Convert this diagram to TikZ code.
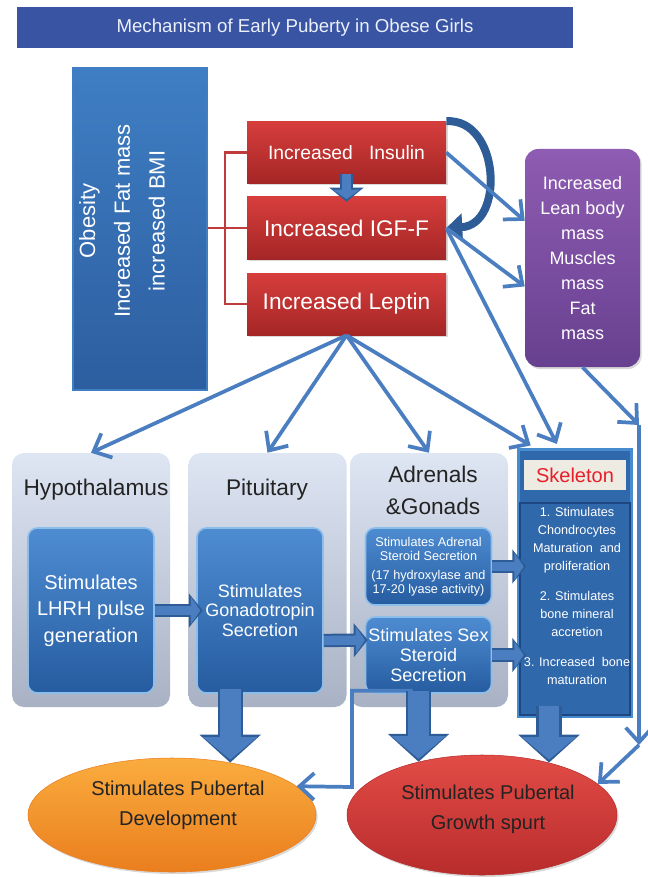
\documentclass[tikz,border=0pt]{standalone}
\usepackage{fontspec}
\setmainfont{Liberation Sans}
\usepackage{tikz}
\usetikzlibrary{shapes.geometric,arrows.meta,calc,shadows}

\definecolor{titleblue}{RGB}{58,84,164}
\definecolor{titletext}{RGB}{236,240,250}
\definecolor{obtop}{RGB}{63,126,195}
\definecolor{obbot}{RGB}{44,94,160}
\definecolor{redtop}{RGB}{214,62,60}
\definecolor{redbot}{RGB}{165,38,38}
\definecolor{bracketred}{RGB}{190,60,60}
\definecolor{purpletop}{RGB}{142,92,178}
\definecolor{purplebot}{RGB}{104,64,144}
\definecolor{paneltop}{RGB}{222,229,243}
\definecolor{panelbot}{RGB}{168,178,196}
\definecolor{innertop}{RGB}{78,140,210}
\definecolor{innerbot}{RGB}{38,92,160}
\definecolor{innerborder}{RGB}{140,190,235}
\definecolor{skelfill}{RGB}{48,104,172}
\definecolor{skelborder}{RGB}{72,140,208}
\definecolor{skeldark}{RGB}{30,70,130}
\definecolor{labelbg}{RGB}{238,236,226}
\definecolor{labelred}{RGB}{232,30,40}
\definecolor{arrowblue}{RGB}{74,126,192}
\definecolor{arrowdark}{RGB}{46,92,150}
\definecolor{orangetop}{RGB}{250,172,62}
\definecolor{orangebot}{RGB}{234,126,30}
\definecolor{growthtop}{RGB}{226,76,70}
\definecolor{growthbot}{RGB}{184,44,44}
\definecolor{textdark}{RGB}{35,35,35}

\begin{document}
\begin{tikzpicture}[x=0.75pt, y=-0.75pt,
titlebar/.style={fill=titleblue, text=titletext, minimum width=417pt, minimum height=30.75pt, font=\fontsize{14}{17}\selectfont},
bluebox/.style={top color=obtop, bottom color=obbot, draw=obtop, line width=0.8pt},
redbox/.style={top color=redtop, bottom color=redbot, minimum width=149.25pt, minimum height=46.5pt, text=white, font=\fontsize{17}{20}\selectfont, drop shadow={opacity=0.3, shadow xshift=1.2pt, shadow yshift=-1.5pt}},
purplebox/.style={top color=purpletop, bottom color=purplebot, rounded corners=10pt, minimum width=86.25pt, minimum height=163.5pt, text=white, align=center, font=\fontsize{13.5}{18.75}\selectfont, drop shadow={opacity=0.3, shadow xshift=1.2pt, shadow yshift=-1.5pt}},
panel/.style={top color=paneltop, bottom color=panelbot, rounded corners=9pt, minimum width=118.5pt, minimum height=190.5pt},
paneltitle/.style={text=textdark, align=center, font=\fontsize{17}{18}\selectfont},
innerbox/.style={top color=innertop, bottom color=innerbot, draw=innerborder, line width=1.2pt, rounded corners=7pt, minimum width=94.5pt, text=white, align=center, inner sep=1pt},
skelbox/.style={fill=skelfill, draw=skelborder, line width=2.5pt, minimum width=85pt, minimum height=200pt},
skelpanel/.style={fill=skelfill, draw=skeldark, line width=1pt, minimum width=82.5pt, minimum height=159pt},
skellabel/.style={fill=labelbg, text=labelred, minimum width=76.5pt, minimum height=22.5pt, inner sep=0pt, font=\fontsize{15}{17}\selectfont},
skeltext/.style={text=white, align=center, font=\fontsize{9.5}{13.5}\selectfont},
oval/.style={shape=ellipse, inner sep=0pt, drop shadow={opacity=0.3, shadow xshift=1.2pt, shadow yshift=-1.5pt}},
ovaltext/.style={text=textdark, align=center, font=\fontsize{15}{22.5}\selectfont},
bracket/.style={color=bracketred, line width=1.6pt},
thinarrow/.style={color=arrowblue, line width=2.8pt, -{Straight Barb[length=11pt, width=20pt]}},
curvearrow/.style={color=arrowdark, line width=6pt, -{Triangle[length=12pt, width=20pt]}},
sideout/.style={color=arrowdark, line width=10pt, -{Triangle[length=10.5pt, width=25pt]}},
sidein/.style={color=arrowblue, line width=7pt, shorten >=2pt, -{Triangle[length=7pt, width=20pt]}},
downout/.style={color=arrowdark, line width=19pt, -{Triangle[length=21pt, width=45pt]}},
downin/.style={color=arrowblue, line width=15.5pt, shorten >=2.2pt, -{Triangle[length=17pt, width=40pt]}}]
\useasboundingbox (0,0) rectangle (647,877);

\node[titlebar](title) at (295,28) {Mechanism of Early Puberty in Obese Girls};

\node[bluebox, minimum width=100.5pt, minimum height=241.5pt](obesity) at (140,229) {};
\node[rotate=90, align=center, text=white, font=\fontsize{16.5}{26}\selectfont](obesitytext) at (122,221) {Obesity\\Increased Fat mass\\increased BMI};

\node[redbox, font=\fontsize{14.5}{17}\selectfont](insulin) at (346.5,152.5) {Increased\ \ \ Insulin};
\node[redbox](igf) at (346.5,228) {Increased IGF-F};
\node[redbox](leptin) at (346.5,304) {Increased Leptin};

\node[purplebox](purple) at (582.5,258) {Increased\\Lean body\\mass\\Muscles\\mass\\Fat\\mass};

\node[panel](hyp) at (91,580) {};
\node[panel](pit) at (267.5,580) {};
\node[panel](adr) at (429,580) {};
\node[paneltitle](hyptitle) at (96,490) {Hypothalamus};
\node[paneltitle](pittitle) at (267,490) {Pituitary};
\node[paneltitle, font=\fontsize{17}{24}\selectfont](adrtitle) at (433,490) {Adrenals\\\&Gonads};

\node[innerbox, minimum height=123.75pt, font=\fontsize{15}{20}\selectfont](hypbox) at (91,610.5) {Stimulates\\LHRH pulse\\generation};
\node[innerbox, minimum height=123.75pt, font=\fontsize{13.5}{14.6}\selectfont](pitbox) at (260,610.5) {Stimulates\\Gonadotropin\\Secretion};
\node[innerbox, minimum height=57.75pt, font=\fontsize{9.5}{10.5}\selectfont](adrbox) at (428.5,566.5) {Stimulates Adrenal\\Steroid Secretion\\[4pt](17 hydroxylase and\\17-20 lyase activity)};
\node[innerbox, minimum height=57pt, font=\fontsize{13.5}{15}\selectfont](sexbox) at (428.5,655) {Stimulates Sex\\Steroid\\Secretion};

\node[skelbox](skel) at (575,582.5) {};
\node[skelpanel](skelpanel) at (575,609) {};
\node[skellabel](skellabel) at (575,475) {Skeleton};
\node[skeltext](skeltext) at (577,596) {1. Stimulates\\Chondrocytes\\Maturation\ \ and\\proliferation\\[9pt]2. Stimulates\\bone mineral\\accretion\\[9pt]3. Increased\ \ bone\\maturation};

\node[oval, top color=orangetop, bottom color=orangebot, draw=orangebot, minimum width=216pt, minimum height=85.5pt](puberty) at (172,815) {};
\node[oval, top color=growthtop, bottom color=growthbot, draw=growthbot, minimum width=202.5pt, minimum height=90pt](growth) at (482,815) {};
\node[ovaltext](pubertytext) at (178,805) {Stimulates Pubertal\\Development};
\node[ovaltext](growthtext) at (488,809) {Stimulates Pubertal\\Growth spurt};

\coordinate(brk) at (225,228);
\draw[bracket] (obesity.east |- igf.west) -- (igf.west);
\draw[bracket] (insulin.west) -| (brk) |- (leptin.west);

\path[sideout] ($(insulin.south)+(0,-10)$) edge ($(igf.north)+(0,5)$);
\path[sidein] ($(insulin.south)+(0,-10)$) edge ($(igf.north)+(0,5)$);
\draw[curvearrow] (insulin.north east) .. controls (500,118) and (505,225) .. (igf.east);

\path[thinarrow] (insulin.east) edge ($(purple.north west)!0.33!(purple.south west)$);
\path[thinarrow] (igf.east) edge ($(purple.north west)!0.63!(purple.south west)$);
\path[thinarrow, shorten >=3pt] (igf.east) edge ($(skel.north west)!0.36!(skel.north east)$);

\path[thinarrow] (leptin.south) edge (hyp.north);
\path[thinarrow] (leptin.south) edge (pit.north);
\path[thinarrow] (leptin.south) edge (adr.north);
\path[thinarrow, shorten >=3pt] (leptin.south) edge ($(skel.north west)!0.15!(skel.north east)$);

\coordinate(c1) at (639,425);
\coordinate(c2) at (639,745);
\path[thinarrow] (purple.south) edge (c1);
\path[thinarrow] (c1) edge (c2);
\path[thinarrow] (c2) edge (growth.15);

\path[sideout] (hypbox.east) edge ([xshift=5pt]pitbox.west);
\path[sidein] (hypbox.east) edge ([xshift=5pt]pitbox.west);
\path[sideout] ($(pitbox.east)+(0,30)$) edge ($(sexbox.west)+(3,-15)$);
\path[sidein] ($(pitbox.east)+(0,30)$) edge ($(sexbox.west)+(3,-15)$);
\path[sideout] (adrbox.east) edge ($(adrbox.east -| skelpanel.west)+(7,0)$);
\path[sidein] (adrbox.east) edge ($(adrbox.east -| skelpanel.west)+(7,0)$);
\path[sideout] (sexbox.east) edge ($(sexbox.east -| skelpanel.west)+(7,0)$);
\path[sidein] (sexbox.east) edge ($(sexbox.east -| skelpanel.west)+(7,0)$);

\coordinate(bend) at (352,787);
\draw[thinarrow] ($(sexbox.south)+(-16,-3)$) -| (bend) -- (puberty.13);

\path[downout] ($(pitbox.south -| puberty.42)+(0,-5)$) edge (puberty.42);
\path[downin] ($(pitbox.south -| puberty.42)+(0,-5)$) edge (puberty.42);
\path[downout] ($(sexbox.south -| growth.140)+(0,-3)$) edge (growth.140);
\path[downin] ($(sexbox.south -| growth.140)+(0,-3)$) edge (growth.140);
\path[downout] ($(skel.south -| growth.38)+(0,-12)$) edge (growth.38);
\path[downin] ($(skel.south -| growth.38)+(0,-12)$) edge (growth.38);
\end{tikzpicture}
\end{document}
